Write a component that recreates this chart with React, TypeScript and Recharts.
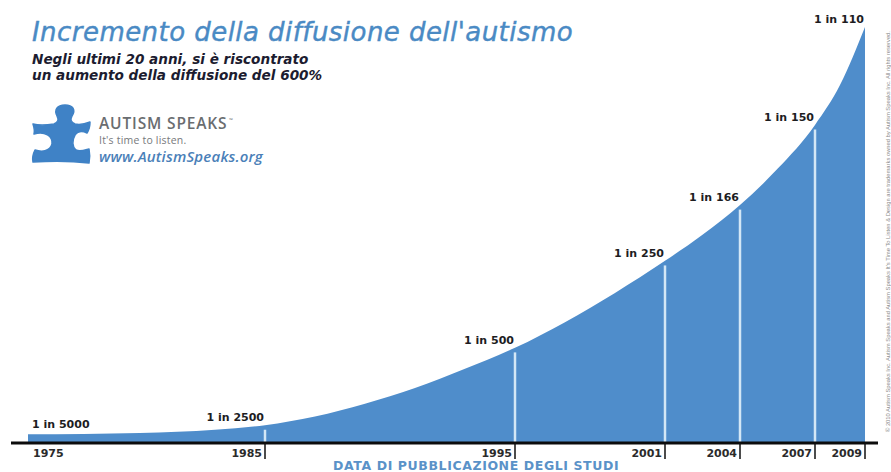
import React from "react";
import {
  AreaChart,
  Area,
  XAxis,
  YAxis,
  LabelList,
  ReferenceLine,
} from "recharts";

const years = [
  1975.52, 1980, 1983, 1985, 1987, 1989, 1991, 1993, 1995, 1997, 1999, 2001,
  2002.5, 2004, 2005.5, 2007, 2008, 2009,
];
// curve height, cases per 10,000 as plotted; the source curve is smoothed so
// it does not pass exactly through every stated ratio
const heights = [
  1.9, 2.2, 2.9, 3.9, 5.8, 8.6, 12.0, 16.2, 20.8, 26.4, 32.8, 39.8, 45.5, 52,
  59.9, 69.5, 78.2, 90.9,
];

const studyYears = [1975.52, 1985, 1995, 2001, 2004, 2007, 2009];
const ratioDenominators = [5000, 2500, 500, 250, 166, 150, 110];
const dividerYears = [1985, 1995, 2001, 2004, 2007];

const BLUE = "#4f8dcb";
const INK = "#1d1d1f";
const LABEL_FONT = "'DejaVu Sans', sans-serif";

const chartData = years.map((year, i) => {
  const studyIndex = studyYears.indexOf(year);
  return {
    year,
    height: heights[i],
    ratio: studyIndex >= 0 ? `1 in ${ratioDenominators[studyIndex]}` : undefined,
  };
});

const RatioLabel = (props: any) => {
  const { x, y, value, index } = props;
  if (!value) return null;
  const first = index === 0;
  return (
    <text
      x={first ? x + 4 : x - 1}
      y={first ? y - 6 : y - 4}
      textAnchor={first ? "start" : "end"}
      fontFamily={LABEL_FONT}
      fontSize={11}
      fontWeight={700}
      fill={INK}
    >
      {value}
    </text>
  );
};

const YearTick = (props: any) => {
  const { x, y, payload } = props;
  const first = payload.value === studyYears[0];
  return (
    <g>
      {!first && <line x1={x} x2={x} y1={y} y2={y + 16} stroke="#111" strokeWidth={1.5} />}
      <text
        x={first ? x + 5 : x - 3}
        y={y + 13.5}
        textAnchor={first ? "start" : "end"}
        fontFamily={LABEL_FONT}
        fontSize={11}
        fontWeight={700}
        fill="#2b2b2b"
      >
        {Math.floor(payload.value)}
      </text>
    </g>
  );
};

const PUZZLE_PATH =
  "M33 124 C40 126 48 125 54 124 C58 122 59 120 57 116 C54 110 57 105 65 105 " +
  "C73 105 76 110 72 116 C70 120 71 122 75 124 C80 125 85 124 90 122 " +
  "C90 127 89 130 87 133 C83 131 78 131 75 135 C72 140 72 147 76 150 " +
  "C80 152 85 150 89 149 C90 154 90 158 89 163 C72 161 50 161 33 162 " +
  "C32 158 33 154 35 150 C41 152 50 152 52 144 C53 136 45 131 34 134 C35 130 34 127 33 124 Z";

const App = () => {
  return (
    <div style={{ position: "absolute", left: 0, top: 0, width: 891, height: 472, background: "#fff" }}>
      <AreaChart
        width={891}
        height={472}
        data={chartData}
        margin={{ top: 0, right: 13, bottom: 0, left: 11 }}
      >
        <YAxis hide type="number" domain={[0, 96.8]} />
        <XAxis
          dataKey="year"
          type="number"
          domain={[1974.84, 2009.52]}
          ticks={studyYears}
          interval={0}
          height={29}
          tickLine={false}
          tickSize={0}
          tickMargin={0}
          tick={YearTick}
          axisLine={{ stroke: "#0c0c0c", strokeWidth: 3 }}
        />
        <Area
          dataKey="height"
          type="monotone"
          stroke="none"
          fill={BLUE}
          fillOpacity={1}
          isAnimationActive={false}
        >
          <LabelList dataKey="ratio" content={RatioLabel} />
        </Area>
        {dividerYears.map((year) => (
          <ReferenceLine
            key={year}
            segment={[
              { x: year, y: 0 },
              { x: year, y: heights[years.indexOf(year)] - 1 },
            ]}
            stroke="#d3e7f6"
            strokeWidth={2.5}
          />
        ))}
      </AreaChart>
      <svg
        width={891}
        height={472}
        style={{ position: "absolute", left: 0, top: 0, pointerEvents: "none" }}
      >
        <text
          x={32}
          y={41}
          fontFamily={LABEL_FONT}
          fontStyle="italic"
          fontSize={26}
          letterSpacing={0.45}
          fill="#4a8ac4"
          stroke="#4a8ac4"
          strokeWidth={0.4}
        >
          Incremento della diffusione dell'autismo
        </text>
        <text x={32} y={64} fontFamily={LABEL_FONT} fontStyle="italic" fontWeight={700} fontSize={13.6} fill="#1c1c30">
          Negli ultimi 20 anni, si è riscontrato
        </text>
        <text x={32} y={80} fontFamily={LABEL_FONT} fontStyle="italic" fontWeight={700} fontSize={13.6} fill="#1c1c30">
          un aumento della diffusione del 600%
        </text>
        <path d={PUZZLE_PATH} fill="#3f82c6" stroke="#3f82c6" strokeWidth={1.5} strokeLinejoin="round" />
        <text x={99} y={129} fontFamily="'Open Sans', sans-serif" fontWeight={600} fontSize={15.5} letterSpacing={0.85} fill="#6a6d70">
          AUTISM SPEAKS
        </text>
        <text x={229} y={122} fontFamily="'Open Sans', sans-serif" fontSize={5} fill="#6a6d70">
          ™
        </text>
        <text x={99} y={144} fontFamily="'Open Sans', sans-serif" fontSize={10.5} letterSpacing={0.2} fill="#77797c">
          It's time to listen.
        </text>
        <text x={99} y={162} fontFamily="'Open Sans', sans-serif" fontStyle="italic" fontWeight={600} fontSize={15} letterSpacing={0.2} fill="#4a80b8">
          www.AutismSpeaks.org
        </text>
        <text x={333} y={470} fontFamily={LABEL_FONT} fontWeight={700} fontSize={12.5} letterSpacing={0.6} fill="#5a92c8">
          DATA DI PUBBLICAZIONE DEGLI STUDI
        </text>
        <text
          transform="translate(890 432) rotate(-90)"
          fontFamily="'Liberation Sans', sans-serif"
          fontSize={5.8}
          fill="#8a8a8a"
        >
          © 2010 Autism Speaks Inc. Autism Speaks and Autism Speaks It's Time To Listen &amp; Design are trademarks owned by Autism Speaks Inc. All rights reserved.
        </text>
      </svg>
    </div>
  );
};

export default App;
